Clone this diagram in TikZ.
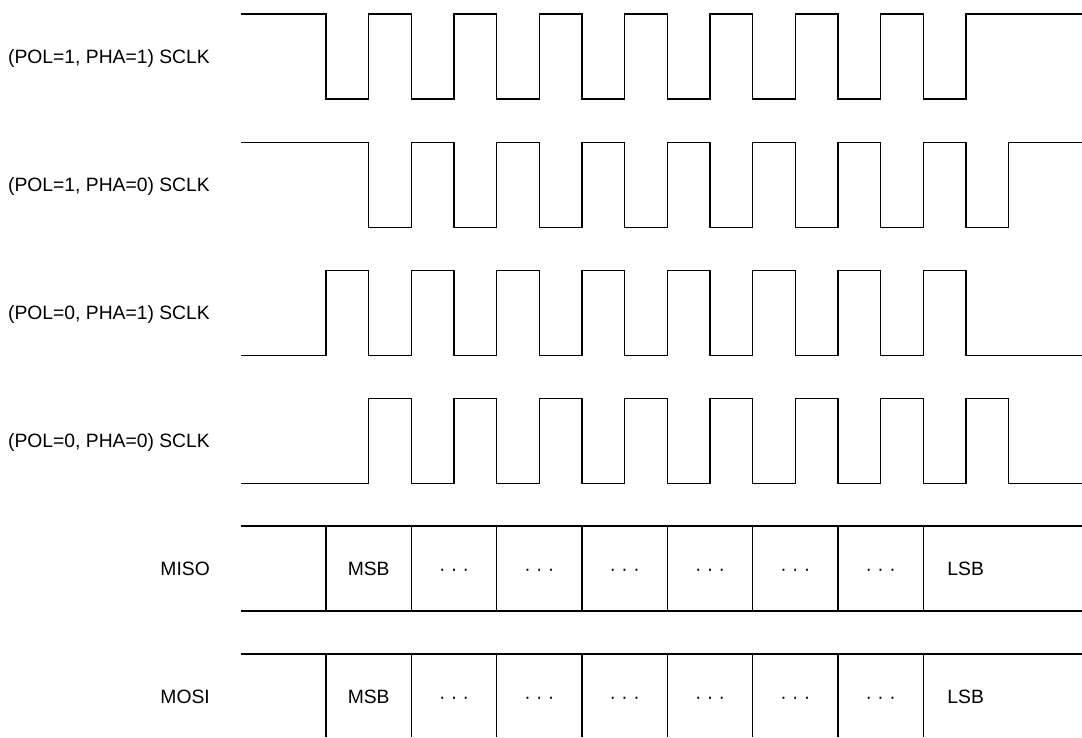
\documentclass[tikz,border=0pt]{standalone}
\usepackage{fontspec}
\setmainfont{Liberation Sans}
\tikzset{
  wave/.style={line width=1.6pt, line join=miter},
  lbl/.style={anchor=base east, inner sep=0pt, font=\fontsize{19.3}{22}\selectfont},
  cell/.style={anchor=base, inner sep=0pt, font=\fontsize{19.3}{22}\selectfont},
}
\newcommand\clkwave[3]{%
  \draw[wave] (241,#1) foreach \i in {0,...,15} {
    -- ({326+42.667*(#3+\i)},{ifthenelse(mod(\i,2)==0,#1,#2)})
    -- ({326+42.667*(#3+\i)},{ifthenelse(mod(\i,2)==0,#2,#1)}) } -- (1082,#1);}
\begin{document}
\begin{tikzpicture}[x=1pt,y=-1pt]
\useasboundingbox (0,0) rectangle (1082,737);
% clock waveforms
\clkwave{14}{99}{0}
\clkwave{142.5}{227.5}{1}
\clkwave{355.5}{270.5}{0}
\clkwave{483.5}{398.5}{1}
% labels
\node[lbl] (l1) at (210,63.3) {(POL=1, PHA=1) SCLK};
\node[lbl] (l2) at (210,191.8) {(POL=1, PHA=0) SCLK};
\node[lbl] (l3) at (210,319.8) {(POL=0, PHA=1) SCLK};
\node[lbl] (l4) at (210,447.8) {(POL=0, PHA=0) SCLK};
\node[lbl] (l5) at (210,575.3) {MISO};
\node[lbl] (l6) at (210,703) {MOSI};
% data lanes
\draw[wave] (241,526) -- (1082,526);
\draw[wave] (241,611) -- (1082,611);
\draw[wave] (241,654) -- (1082,654);
\foreach \j in {0,...,7} {
  \draw[wave] ({326+85.333*\j},526) -- ({326+85.333*\j},611);
  \draw[wave] ({326+85.333*\j},654) -- ({326+85.333*\j},737);
}
\node[cell] (a0) at (368.7,575.3) {MSB};
\node[cell] (b0) at (368.7,703) {MSB};
\foreach \j in {1,...,6} {
  \node[cell] (a\j) at ({368.7+85.333*\j},575.3) {·\ ·\ ·};
  \node[cell] (b\j) at ({368.7+85.333*\j},703) {·\ ·\ ·};
}
\node[cell] (a7) at (965.7,575.3) {LSB};
\node[cell] (b7) at (965.7,703) {LSB};
\end{tikzpicture}
\end{document}
